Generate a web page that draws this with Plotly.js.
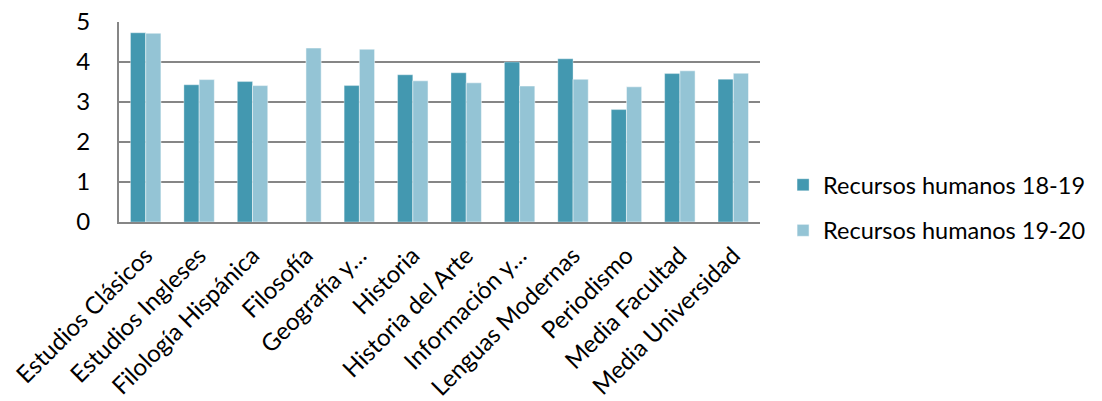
<!DOCTYPE html>
<html>
<head>
<meta charset="utf-8">
<script src="https://cdn.plot.ly/plotly-3.0.1.min.js"></script>
<style>html,body{margin:0;padding:0;background:#fff;}#chart{width:1102px;height:401px;}</style>
</head>
<body>
<div id="chart"></div>
<script>
var categories = ["Estudios Clásicos", "Estudios Ingleses", "Filología Hispánica", "Filosofía", "Geografía y…", "Historia", "Historia del Arte", "Información y…", "Lenguas Modernas", "Periodismo", "Media Facultad", "Media Universidad"];
var rrhh1819 = [4.73, 3.43, 3.51, null, 3.41, 3.68, 3.73, 4.00, 4.08, 2.81, 3.71, 3.57];
var rrhh1920 = [4.72, 3.56, 3.41, 4.35, 4.32, 3.53, 3.48, 3.40, 3.57, 3.38, 3.78, 3.72];
var seriesNames = ["Recursos humanos 18-19", "Recursos humanos 19-20"];
var yTicks = [0, 1, 2, 3, 4, 5];

var font = "Lato, 'Open Sans', sans-serif";
var traces = [
  {type: "bar", name: seriesNames[0], x: categories, y: rrhh1819, legendgroup: "a",
   marker: {color: "#4398B0", line: {color: "rgba(255,255,255,0.35)", width: 1}}},
  {type: "bar", name: seriesNames[1], x: categories, y: rrhh1920, legendgroup: "b",
   marker: {color: "#94C4D5", line: {color: "rgba(255,255,255,0.5)", width: 1}}}
];
var layout = {
  width: 1102, height: 401,
  margin: {l: 119, r: 340, t: 22, b: 179, pad: 0},
  paper_bgcolor: "#fff", plot_bgcolor: "#fff",
  barmode: "group", bargap: 0.43, bargroupgap: 0,
  font: {family: font, size: 24, color: "#000"},
  showlegend: true,
  legend: {x: 1.036, y: 0.07, yanchor: "middle", xanchor: "left", traceorder: "grouped",
           tracegroupgap: 12, borderwidth: 0, font: {family: font, size: 23.5, color: "#000"}, itemwidth: 30},
  xaxis: {type: "category", tickangle: -45, showgrid: false, showline: true, linecolor: "#868686",
          linewidth: 2, ticks: "", ticklabelstandoff: 8,
          tickfont: {family: font, size: 24, color: "#000"}, automargin: false},
  yaxis: {range: [0, 5], tickvals: yTicks, ticktext: yTicks.map(String), showgrid: true,
          gridcolor: "#868686", gridwidth: 2, showline: true, linecolor: "#868686", linewidth: 2,
          zeroline: false, ticks: "", ticklabelstandoff: 22,
          tickfont: {family: font, size: 24, color: "#000"}, automargin: false}
};
Plotly.newPlot("chart", traces, layout, {displayModeBar: false, staticPlot: true});
</script>
</body>
</html>
